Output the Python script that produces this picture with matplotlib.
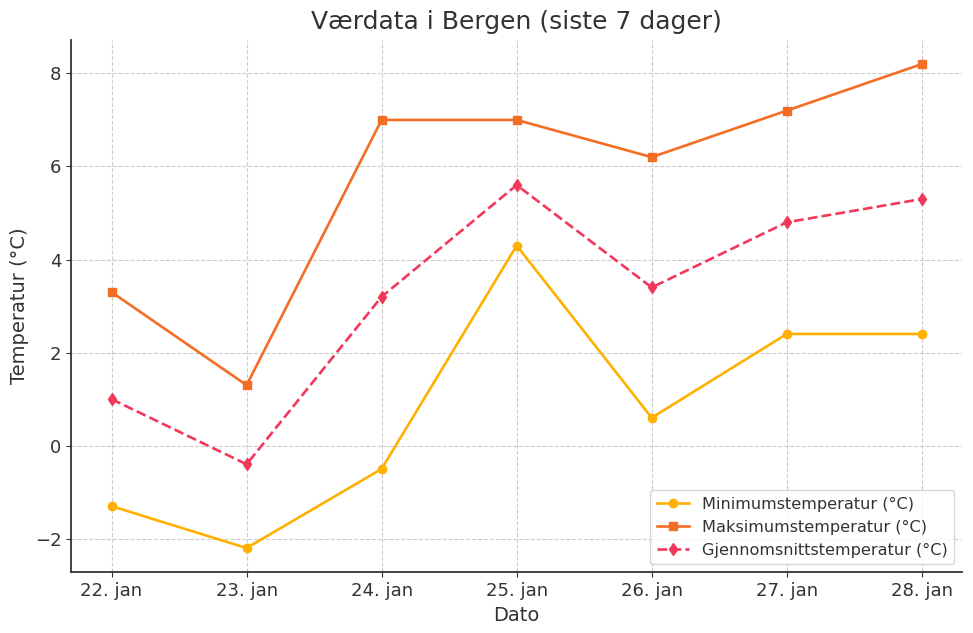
import matplotlib
matplotlib.use("Agg")
import matplotlib.pyplot as plt

dates = ["22. jan", "23. jan", "24. jan", "25. jan", "26. jan", "27. jan", "28. jan"]
min_temp = [-1.3, -2.2, -0.5, 4.3, 0.6, 2.4, 2.4]
max_temp = [3.3, 1.3, 7.0, 7.0, 6.2, 7.2, 8.2]
avg_temp = [1.0, -0.4, 3.2, 5.6, 3.4, 4.8, 5.3]

text_c = "#333333"
plt.rcParams['font.family'] = ['DejaVu Sans']

fig, ax = plt.subplots(figsize=(9.73, 6.33), dpi=100)
fig.subplots_adjust(left=0.073, right=0.989, top=0.937, bottom=0.096)

x = range(len(dates))
ax.plot(x, min_temp, marker='o', color='#FFB000', lw=1.9, ms=6, label='Minimumstemperatur (°C)')
ax.plot(x, max_temp, marker='s', color='#F46D25', lw=1.9, ms=6, label='Maksimumstemperatur (°C)')
ax.plot(x, avg_temp, marker='d', color='#F2385A', lw=1.9, ms=6, ls='--', label='Gjennomsnittstemperatur (°C)')

ax.set_xticks(list(x))
ax.set_xticklabels(dates)
ax.set_title('Værdata i Bergen (siste 7 dager)', fontsize=18, color=text_c, pad=8)
ax.set_xlabel('Dato', fontsize=14, color=text_c)
ax.set_ylabel('Temperatur (°C)', fontsize=14, color=text_c)
ax.tick_params(labelsize=13, colors=text_c)
ax.grid(True, ls='--', color='#cccccc', lw=0.8)
for s in ['top', 'right']:
    ax.spines[s].set_visible(False)
for s in ['left', 'bottom']:
    ax.spines[s].set_color(text_c)
    ax.spines[s].set_linewidth(1.3)
leg = ax.legend(loc='lower right', fontsize=11.6)
for t in leg.get_texts():
    t.set_color(text_c)

fig.savefig('out.png', dpi=100)
